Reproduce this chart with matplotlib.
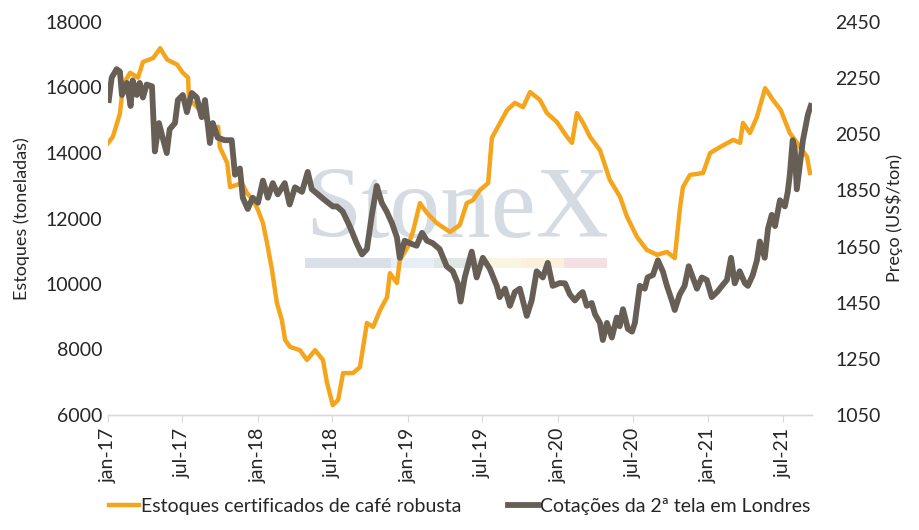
import matplotlib
matplotlib.use("Agg")
import matplotlib.pyplot as plt
import pandas as pd
from matplotlib.patches import Rectangle

plt.rcParams['font.family'] = ['Lato', 'DejaVu Sans']

# ---- data ----
stock_dates = [
    "2017-01-01", "2017-01-13", "2017-01-30", "2017-02-07", "2017-02-24", "2017-03-15", "2017-03-27",
    "2017-04-21", "2017-05-08", "2017-05-25", "2017-06-18", "2017-07-02", "2017-07-15", "2017-07-17",
    "2017-07-27", "2017-08-13", "2017-08-30", "2017-09-13", "2017-09-26", "2017-09-30", "2017-10-18",
    "2017-10-25", "2017-11-23", "2017-12-05", "2017-12-20", "2018-01-01", "2018-01-13", "2018-01-23",
    "2018-02-04", "2018-02-16", "2018-02-28", "2018-03-08", "2018-03-20", "2018-04-13", "2018-04-30",
    "2018-05-20", "2018-06-08", "2018-06-18", "2018-07-02", "2018-07-15", "2018-07-27", "2018-08-20",
    "2018-09-06", "2018-09-23", "2018-10-08", "2018-10-25", "2018-11-11", "2018-11-18", "2018-12-05",
    "2018-12-12", "2018-12-30", "2019-01-13", "2019-01-30", "2019-02-16", "2019-03-12", "2019-04-13",
    "2019-05-07", "2019-05-24", "2019-06-08", "2019-06-25", "2019-07-15", "2019-07-24", "2019-08-13",
    "2019-08-30", "2019-09-18", "2019-10-08", "2019-10-25", "2019-11-18", "2019-12-05", "2019-12-29",
    "2020-01-23", "2020-02-04", "2020-02-16", "2020-03-02", "2020-03-19", "2020-04-12", "2020-05-06",
    "2020-05-31", "2020-06-17", "2020-07-11", "2020-08-04", "2020-08-29", "2020-09-22", "2020-10-11",
    "2020-10-24", "2020-10-31", "2020-11-17", "2020-12-19", "2021-01-05", "2021-01-29", "2021-03-02",
    "2021-03-19", "2021-03-26", "2021-04-12", "2021-04-29", "2021-05-19", "2021-06-07", "2021-06-26",
    "2021-07-18", "2021-08-12", "2021-08-29", "2021-09-05",
]
stock_values = [
    14300, 14500, 15200, 16100, 16450, 16300, 16780,
    16900, 17200, 16850, 16700, 16450, 16300, 15560,
    15530, 15300, 15000, 14600, 14800, 14180, 13700,
    12960, 13080, 12780, 12560, 12260, 11860, 11250,
    10430, 9420, 8900, 8290, 8080, 7980, 7680,
    7980, 7680, 6980, 6300, 6460, 7280, 7280,
    7460, 8810, 8690, 9200, 9600, 10330, 10030,
    10730, 11100, 11600, 12470, 12170, 11860, 11590,
    11800, 12470, 12560, 12870, 13080, 14460, 14920,
    15310, 15530, 15400, 15860, 15620, 15220, 14950,
    14490, 14310, 15220, 14920, 14490, 14090, 13180,
    12660, 12050, 11440, 11040, 10890, 10980, 10790,
    12350, 12960, 13330, 13390, 14000, 14180, 14400,
    14310, 14920, 14610, 15100, 15980, 15620, 15310,
    14610, 14180, 13880, 13390,
]

price_dates = [
    "2017-01-03", "2017-01-10", "2017-01-22", "2017-01-30", "2017-02-04", "2017-02-16", "2017-02-25",
    "2017-03-02", "2017-03-12", "2017-03-19", "2017-03-27", "2017-04-05", "2017-04-18", "2017-04-25",
    "2017-05-05", "2017-05-14", "2017-05-24", "2017-05-31", "2017-06-13", "2017-06-20", "2017-07-02",
    "2017-07-12", "2017-07-24", "2017-08-05", "2017-08-17", "2017-08-25", "2017-09-06", "2017-09-13",
    "2017-09-25", "2017-10-12", "2017-10-29", "2017-11-06", "2017-11-18", "2017-11-25", "2017-12-07",
    "2017-12-19", "2018-01-01", "2018-01-13", "2018-01-25", "2018-02-06", "2018-02-18", "2018-03-07",
    "2018-03-19", "2018-04-01", "2018-04-18", "2018-05-02", "2018-05-12", "2018-05-27", "2018-06-13",
    "2018-07-02", "2018-07-12", "2018-07-26", "2018-08-12", "2018-08-29", "2018-09-11", "2018-09-23",
    "2018-10-05", "2018-10-17", "2018-10-29", "2018-11-10", "2018-11-23", "2018-12-05", "2018-12-12",
    "2018-12-24", "2019-01-05", "2019-01-22", "2019-02-04", "2019-02-16", "2019-03-02", "2019-03-19",
    "2019-04-05", "2019-04-20", "2019-05-02", "2019-05-09", "2019-05-19", "2019-06-05", "2019-06-17",
    "2019-07-02", "2019-07-19", "2019-08-05", "2019-08-12", "2019-08-25", "2019-09-06", "2019-09-18",
    "2019-09-30", "2019-10-17", "2019-10-29", "2019-11-10", "2019-11-25", "2019-12-07", "2019-12-19",
    "2020-01-05", "2020-01-18", "2020-01-30", "2020-02-11", "2020-02-23", "2020-03-01", "2020-03-11",
    "2020-03-23", "2020-03-31", "2020-04-12", "2020-04-19", "2020-04-29", "2020-05-11", "2020-05-23",
    "2020-05-30", "2020-06-07", "2020-06-19", "2020-06-29", "2020-07-06", "2020-07-18", "2020-07-30",
    "2020-08-06", "2020-08-19", "2020-08-31", "2020-09-12", "2020-09-22", "2020-10-04", "2020-10-11",
    "2020-10-23", "2020-11-04", "2020-11-14", "2020-11-24", "2020-12-04", "2020-12-16", "2020-12-28",
    "2021-01-09", "2021-01-22", "2021-02-03", "2021-02-15", "2021-02-25", "2021-03-06", "2021-03-18",
    "2021-03-31", "2021-04-07", "2021-04-19", "2021-04-29", "2021-05-06", "2021-05-18", "2021-05-26",
    "2021-06-04", "2021-06-12", "2021-06-24", "2021-07-06", "2021-07-13", "2021-07-18", "2021-07-25",
    "2021-07-30", "2021-08-04", "2021-08-12", "2021-08-19", "2021-08-26", "2021-08-31", "2021-09-07",
]
price_values = [
    2172, 2252, 2282, 2273, 2190, 2233, 2151,
    2242, 2190, 2233, 2181, 2227, 2221, 1989,
    2090, 2038, 1983, 2068, 2090, 2172, 2190,
    2129, 2197, 2181, 2111, 2172, 2019, 2090,
    2038, 2029, 2029, 1906, 1928, 1824, 1784,
    1824, 1806, 1885, 1824, 1876, 1836, 1876,
    1800, 1861, 1845, 1916, 1854, 1836, 1815,
    1793, 1793, 1775, 1723, 1662, 1622, 1641,
    1763, 1866, 1806, 1775, 1733, 1683, 1610,
    1671, 1662, 1653, 1699, 1671, 1662, 1641,
    1580, 1562, 1519, 1454, 1540, 1632, 1540,
    1610, 1571, 1510, 1470, 1500, 1439, 1488,
    1500, 1403, 1458, 1562, 1540, 1592, 1510,
    1520, 1519, 1479, 1458, 1479, 1488, 1439,
    1449, 1409, 1378, 1317, 1378, 1326, 1397,
    1366, 1427, 1357, 1347, 1378, 1510, 1500,
    1540, 1549, 1601, 1562, 1510, 1458, 1424,
    1479, 1510, 1580, 1540, 1500, 1540, 1531,
    1470, 1488, 1510, 1531, 1610, 1519, 1562,
    1519, 1510, 1549, 1601, 1668, 1610, 1714,
    1763, 1723, 1815, 1793, 1845, 1906, 2029,
    1998, 1854, 1946, 2029, 2081, 2120, 2151,
]

tick_dates = ["2017-01-01", "2017-07-01", "2018-01-01", "2018-07-01", "2019-01-01",
              "2019-07-01", "2020-01-01", "2020-07-01", "2021-01-01", "2021-07-01"]
tick_labels = ["jan-17", "jul-17", "jan-18", "jul-18", "jan-19",
               "jul-19", "jan-20", "jul-20", "jan-21", "jul-21"]

left_ticks = [6000, 8000, 10000, 12000, 14000, 16000, 18000]
right_ticks = [1050, 1250, 1450, 1650, 1850, 2050, 2250, 2450]

stock_label = "Estoques certificados de café robusta"
price_label = "Cotações da 2ª tela em Londres"

ORANGE = "#F5A51C"
GRAY = "#675F55"
TXT = "#262626"
FS = 14

# ---- figure ----
fig = plt.figure(figsize=(9.2, 5.3), dpi=100)
ax1 = fig.add_axes([108/920, 115/530, 704/920, 393/530])
ax2 = ax1.twinx()

sd = pd.to_datetime(stock_dates)
pdt = pd.to_datetime(price_dates)

# watermark
ax1.text(0.28, 0.453, "StoneX", transform=ax1.transAxes, family="Liberation Serif",
         fontsize=73, color="#D5DBE3", ha="left", va="baseline", zorder=0)
seg_cols = ["#DAE0E7", "#DAE0E7", "#E6EEF6", "#DEE7E1", "#F8F5E1", "#FCEFDC", "#F4E0E2"]
x0 = (305 - 108) / 704
segw = (607 - 305) / 704 / 7
for i, c in enumerate(seg_cols):
    ax1.add_patch(Rectangle((x0 + i * segw, 0.374), segw, 0.0255, transform=ax1.transAxes,
                            facecolor=c, edgecolor="none", zorder=0))

l1, = ax1.plot(sd, stock_values, color=ORANGE, lw=3.2, solid_joinstyle="round", zorder=2)
l2, = ax2.plot(pdt, price_values, color=GRAY, lw=4.2, solid_joinstyle="round", zorder=2)

ax1.set_ylim(6000, 18000)
ax2.set_ylim(1050, 2450)
ax1.set_yticks(left_ticks)
ax2.set_yticks(right_ticks)
ax1.set_xlim(pd.Timestamp("2017-01-01"), pd.Timestamp("2021-09-10"))
ax1.set_xticks(pd.to_datetime(tick_dates))
ax1.set_xticklabels(tick_labels, rotation=90)

for ax in (ax1, ax2):
    for s in ("top", "left", "right"):
        ax.spines[s].set_visible(False)
    ax.spines["bottom"].set_color("#D9D9D9")
    ax.spines["bottom"].set_linewidth(1.0)
    ax.tick_params(axis="y", length=0, labelsize=FS, labelcolor=TXT)
ax1.tick_params(axis="y", pad=4)
ax2.tick_params(axis="y", pad=17)
ax1.tick_params(axis="x", length=5, color="#D9D9D9", labelsize=FS, labelcolor=TXT, pad=4)

ax1.set_ylabel("Estoques (toneladas)", fontsize=13, color=TXT, labelpad=11)
ax2.set_ylabel("Preço (US$/ton)", fontsize=13, color=TXT, labelpad=3)

fig.legend([l1, l2], [stock_label, price_label], loc="center", bbox_to_anchor=(0.5, 0.045),
           ncol=2, frameon=False, fontsize=FS, handlelength=1.55, handletextpad=0.1,
           columnspacing=2.4, labelcolor=TXT)

fig.savefig("out.png", dpi=100)
